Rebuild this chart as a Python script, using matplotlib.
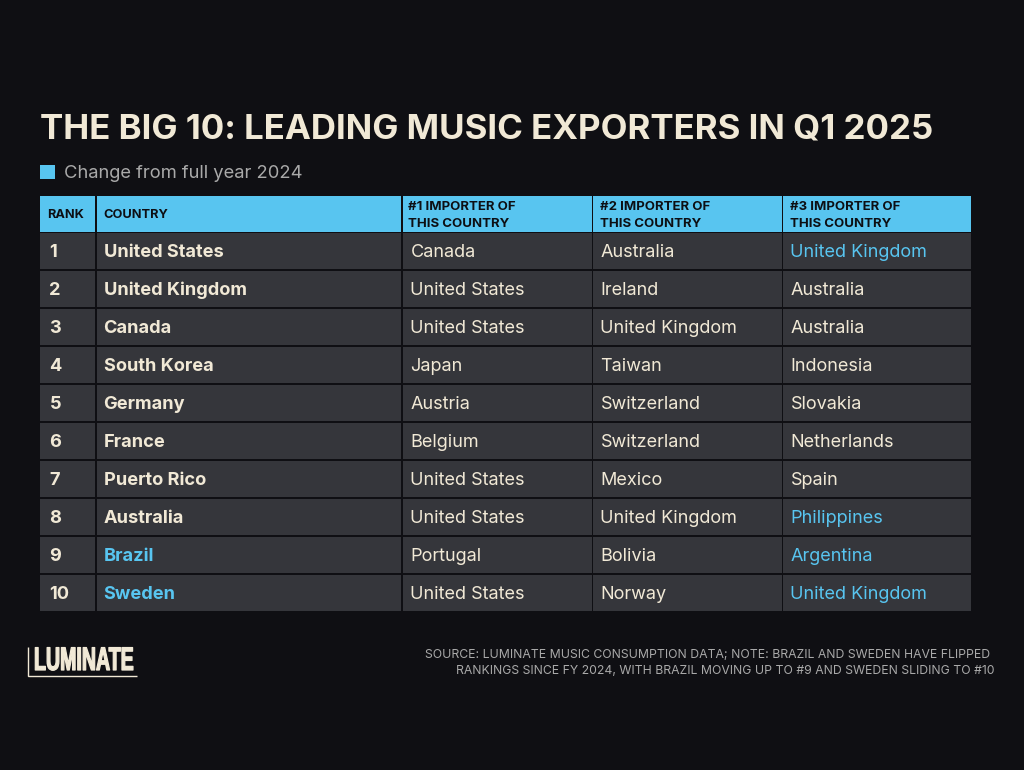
import matplotlib
matplotlib.use("Agg")
import matplotlib.pyplot as plt
import matplotlib.patheffects as pe
from matplotlib.patches import Rectangle
from matplotlib.transforms import Affine2D

plt.rcParams['font.family'] = ['Inter', 'DejaVu Sans']

BG = '#0f0f13'
CELL = '#35363b'
BLUE = '#58c5f0'
CREAM = '#f1e9d6'
GREY = '#a9a9a9'

title = "THE BIG 10: LEADING MUSIC EXPORTERS IN Q1 2025"
legend_label = "Change from full year 2024"
headers = ["RANK", "COUNTRY", "#1 IMPORTER OF\nTHIS COUNTRY", "#2 IMPORTER OF\nTHIS COUNTRY", "#3 IMPORTER OF\nTHIS COUNTRY"]

ranks = ["1", "2", "3", "4", "5", "6", "7", "8", "9", "10"]
countries = ["United States", "United Kingdom", "Canada", "South Korea", "Germany",
             "France", "Puerto Rico", "Australia", "Brazil", "Sweden"]
importer_1 = ["Canada", "United States", "United States", "Japan", "Austria",
              "Belgium", "United States", "United States", "Portugal", "United States"]
importer_2 = ["Australia", "Ireland", "United Kingdom", "Taiwan", "Switzerland",
              "Switzerland", "Mexico", "United Kingdom", "Bolivia", "Norway"]
importer_3 = ["United Kingdom", "Australia", "Australia", "Indonesia", "Slovakia",
              "Netherlands", "Spain", "Philippines", "Argentina", "United Kingdom"]

# (column, row) cells that changed since FY 2024
changed = {(1, 8), (1, 9), (4, 0), (4, 7), (4, 8), (4, 9)}

source = ("SOURCE: LUMINATE MUSIC CONSUMPTION DATA; NOTE: BRAZIL AND SWEDEN HAVE FLIPPED \n"
          "RANKINGS SINCE FY 2024, WITH BRAZIL MOVING UP TO #9 AND SWEDEN SLIDING TO #10")

col_edges = [40, 96, 402, 592.5, 782.5, 971]
head_pad = [8, 8, 5.5, 8, 8]
body_pad = [10, 8, 9, 8.5, 8.5]
header_top, header_bottom = 196, 232
row_top = 233
row_h = 38
gap = 2


class Squeeze(pe.AbstractPathEffect):
    # narrows the glyphs of a text, no condensed font is installed for the logo
    def __init__(self, sx, x0, stroke, color):
        super().__init__()
        self.sx, self.x0, self.stroke, self.color = sx, x0, stroke, color

    def draw_path(self, renderer, gc, tpath, affine, rgbFace=None):
        squeezed = affine + Affine2D().translate(-self.x0, 0).scale(self.sx, 1).translate(self.x0, 0)
        gc0 = renderer.new_gc()
        gc0.copy_properties(gc)
        gc0.set_foreground(self.color)
        gc0.set_linewidth(self.stroke)
        renderer.draw_path(gc0, tpath, squeezed, rgbFace)
        gc0.restore()


fig = plt.figure(figsize=(10.24, 7.70), dpi=100, facecolor=BG)
ax = fig.add_axes([0, 0, 1, 1])
ax.set_xlim(0, 1024)
ax.set_ylim(770, 0)
ax.axis('off')

ax.text(40, 129, title, color=CREAM, fontsize=25.1, fontweight='bold', va='center', ha='left')
ax.add_patch(Rectangle((40, 164.5), 15, 14.5, fc=BLUE, ec='none'))
ax.text(64, 173.5, legend_label, color=GREY, fontsize=13.25, va='center', ha='left')

columns = [ranks, countries, importer_1, importer_2, importer_3]
for c, (col, head) in enumerate(zip(columns, headers)):
    left = col_edges[c] + (0.75 if c else 0)
    right = col_edges[c + 1] - (0.75 if c < 4 else 0)
    ax.add_patch(Rectangle((left, header_top), right - left, header_bottom - header_top, fc=BLUE, ec='none'))
    two_line = "\n" in head
    ax.text(col_edges[c] + head_pad[c] - (0 if two_line else 0.5), (header_top + header_bottom) / 2 + 0.5 + (1 if two_line else 0), head,
            color='#0d0f14', fontsize=9.5 if two_line else 9.2, fontweight='bold', va='center', ha='left', linespacing=1.45)
    for r, value in enumerate(col):
        top = row_top + r * row_h
        ax.add_patch(Rectangle((left, top), right - left, row_h - gap, fc=CELL, ec='none'))
        bold = c < 2
        ax.text(col_edges[c] + body_pad[c] - 0.5, top + (row_h - gap) / 2 + 1.5, value,
                color=BLUE if (c, r) in changed else CREAM,
                fontsize=13.1 if bold else 13.0, fontweight='bold' if bold else 'normal', va='center', ha='left')

# logo
ax.text(34, 670, "LUMINATE", color=CREAM, fontsize=23.5, fontweight='bold', va='baseline', ha='left',
        family=['Liberation Sans', 'DejaVu Sans'],
        path_effects=[Squeeze(0.6, 34, 0.9, CREAM)])
ax.plot([27.5, 27.5, 136.5], [647, 675.5, 675.5], color=CREAM, lw=1.0, solid_joinstyle='miter', solid_capstyle='butt')

ax.text(994, 663, source, color=GREY, fontsize=8.8, va='center', ha='right', linespacing=1.47, multialignment='right')

fig.savefig('out.png', dpi=100, facecolor=BG)
